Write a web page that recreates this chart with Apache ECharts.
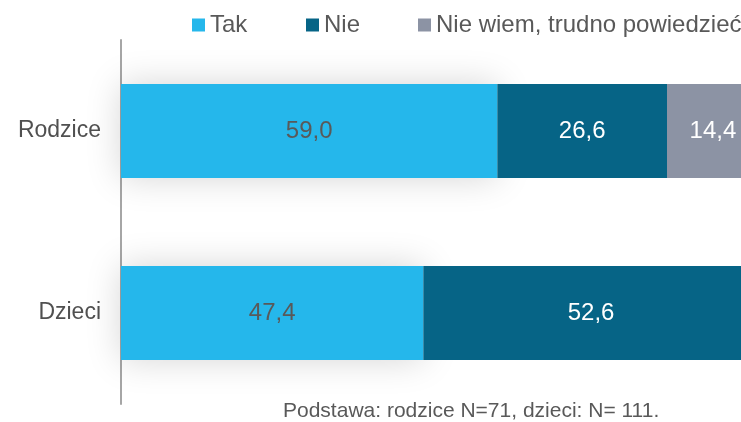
<!DOCTYPE html>
<html>
<head>
<meta charset="utf-8">
<script src="https://cdn.jsdelivr.net/npm/echarts@6/dist/echarts.min.js"></script>
<style>
html,body{margin:0;padding:0;background:#fff;}
#chart{width:741px;height:422px;}
</style>
</head>
<body>
<div id="chart"></div>
<script>
const categories = ['Rodzice', 'Dzieci']
const seriesNames = ['Tak', 'Nie', 'Nie wiem, trudno powiedzieć']
const takValues = [59.0, 47.4]
const nieValues = [26.6, 52.6]
const nieWiemValues = [14.4, 0]
const footnote = 'Podstawa: rodzice N=71, dzieci: N= 111.'

const colors = ['#25B7EB', '#066486', '#8C93A4']
const font = 'Liberation Sans, Arial, sans-serif'

// comma decimal like the original, empty segments get no label
function fmt(p) {
    if (!p.value) return ''
    return p.value.toFixed(1).replace('.', ',')
}

let myChart = echarts.init(document.getElementById('chart'))

let legendBase = {
    top: 8,
    itemWidth: 13,
    itemHeight: 13,
    icon: 'rect',
    textStyle: { fontFamily: font, fontSize: 24, color: '#595959', padding: [0, 0, 0, 0] }
}

// the original picture is cropped: the 100% bar runs past the right edge,
// so the visible axis stops at about 97.2
let option = {
    animation: false,
    legend: [
        Object.assign({ left: 187, data: [seriesNames[0]] }, legendBase),
        Object.assign({ left: 301, data: [seriesNames[1]] }, legendBase),
        Object.assign({ left: 413, data: [seriesNames[2]] }, legendBase)
    ],
    grid: { left: 121, right: 0, top: 40, bottom: 18 },
    xAxis: {
        type: 'value',
        min: 0,
        max: 97.2,
        show: false
    },
    yAxis: {
        type: 'category',
        data: categories,
        inverse: true,
        axisLine: { show: true, lineStyle: { color: '#A6A6A6', width: 2 } },
        axisTick: { show: false },
        axisLabel: { fontFamily: font, fontSize: 23, color: '#505050', margin: 20 }
    },
    series: [
        {
            name: seriesNames[0],
            type: 'bar',
            stack: 'total',
            barWidth: 94,
            clip: false,
            data: takValues,
            itemStyle: {
                color: colors[0],
                shadowBlur: 35,
                shadowColor: 'rgba(0,0,0,0.17)'
            },
            label: { show: true, position: 'inside', formatter: fmt, fontFamily: font, fontSize: 24, color: '#595959' }
        },
        {
            name: seriesNames[1],
            type: 'bar',
            stack: 'total',
            barWidth: 94,
            clip: false,
            data: nieValues,
            itemStyle: { color: colors[1] },
            label: { show: true, position: 'inside', formatter: fmt, fontFamily: font, fontSize: 24, color: '#fff' }
        },
        {
            name: seriesNames[2],
            type: 'bar',
            stack: 'total',
            barWidth: 94,
            clip: false,
            data: nieWiemValues,
            itemStyle: { color: colors[2] },
            label: { show: true, position: 'inside', formatter: fmt, fontFamily: font, fontSize: 24, color: '#fff' }
        }
    ],
    graphic: [
        {
            type: 'text',
            left: 283,
            top: 401,
            style: { text: footnote, fontFamily: font, fontSize: 21, fill: '#595959' }
        }
    ]
}
myChart.setOption(option)
</script>
</body>
</html>
